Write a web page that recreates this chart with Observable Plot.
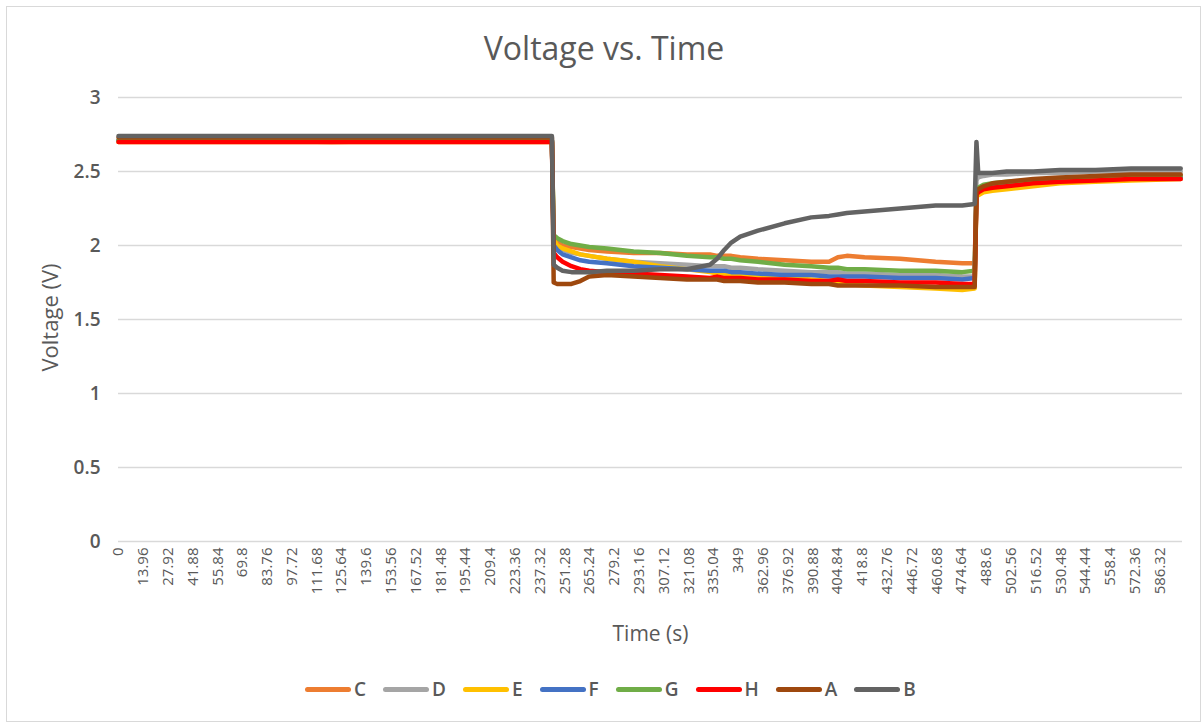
<!DOCTYPE html>
<html><head><meta charset="utf-8">
<script src="https://cdn.jsdelivr.net/npm/d3@7"></script>
<script src="https://cdn.jsdelivr.net/npm/@observablehq/plot@0.6"></script>
<style>
body{margin:0;background:#fff;font-family:"Open Sans",sans-serif;color:#595959;}
#wrap{position:relative;width:1202px;height:723px;overflow:hidden;}
#border{position:absolute;left:6px;top:6px;width:1195px;height:716px;border:1.5px solid #d9d9d9;box-sizing:border-box;pointer-events:none;}
#title{height:80px;box-sizing:border-box;padding-top:30px;text-align:center;font-size:32px;line-height:36px;color:#595959;padding-left:6px;}
#chart svg{display:block;}
#legend{height:68px;display:flex;align-items:center;padding-left:305px;box-sizing:border-box;}
.item{display:flex;align-items:center;margin-right:17px;font-size:19px;font-weight:600;color:#595959;}
.sw{width:46px;height:5px;border-radius:3px;margin-right:3px;}
</style></head>
<body><div id="wrap"><div id="border"></div><div id="title">Voltage vs. Time</div><div id="chart"></div><div id="legend"></div></div>
<script>
const series = ["C","D","E","F","G","H","A","B"];
const colors = ["#ED7D31","#A5A5A5","#FFC000","#4472C4","#70AD47","#FF0000","#9E480E","#636363"];
const yTicks = [0,0.5,1,1.5,2,2.5,3];
const xTickLabels = ["0","13.96","27.92","41.88","55.84","69.8","83.76","97.72","111.68","125.64","139.6","153.56","167.52","181.48","195.44","209.4","223.36","237.32","251.28","265.24","279.2","293.16","307.12","321.08","335.04","349","362.96","376.92","390.88","404.84","418.8","432.76","446.72","460.68","474.64","488.6","502.56","516.52","530.48","544.44","558.4","572.36","586.32"];

const time = [0,60,120,180,244,245,247,250,255,260,265,275,290,305,320,333,337,341,345,350,360,375,390,400,405,410,420,440,460,475,482,483,484,487,492,500,515,530,550,570,598];
const C = [2.71,2.71,2.70,2.71,2.71,2.05,2.02,2.00,1.99,1.98,1.97,1.96,1.95,1.95,1.94,1.94,1.93,1.93,1.93,1.92,1.91,1.90,1.89,1.89,1.92,1.93,1.92,1.91,1.89,1.88,1.88,2.35,2.37,2.39,2.40,2.41,2.43,2.44,2.45,2.46,2.46];
const D = [2.71,2.71,2.71,2.71,2.71,2.02,1.99,1.97,1.95,1.94,1.93,1.91,1.89,1.88,1.87,1.86,1.86,1.86,1.85,1.85,1.84,1.83,1.82,1.82,1.82,1.81,1.81,1.80,1.80,1.79,1.79,2.44,2.46,2.47,2.48,2.48,2.49,2.49,2.50,2.50,2.50];
const E = [2.70,2.70,2.70,2.70,2.70,2.04,2.00,1.98,1.96,1.94,1.93,1.91,1.89,1.86,1.84,1.82,1.81,1.81,1.80,1.80,1.79,1.78,1.77,1.76,1.75,1.74,1.73,1.72,1.71,1.70,1.71,2.33,2.34,2.36,2.37,2.38,2.40,2.42,2.43,2.44,2.45];
const F = [2.71,2.71,2.71,2.71,2.71,2.00,1.97,1.94,1.92,1.90,1.89,1.88,1.86,1.85,1.84,1.83,1.83,1.83,1.82,1.82,1.81,1.80,1.80,1.79,1.79,1.79,1.79,1.78,1.78,1.77,1.78,2.36,2.38,2.40,2.41,2.42,2.43,2.44,2.45,2.46,2.46];
const G = [2.71,2.71,2.71,2.71,2.71,2.07,2.05,2.03,2.01,2.00,1.99,1.98,1.96,1.95,1.93,1.92,1.92,1.91,1.91,1.90,1.89,1.87,1.86,1.85,1.85,1.84,1.84,1.83,1.83,1.82,1.83,2.37,2.39,2.41,2.42,2.43,2.44,2.45,2.46,2.46,2.47];
const H = [2.70,2.70,2.70,2.70,2.70,1.95,1.92,1.89,1.86,1.84,1.83,1.82,1.81,1.80,1.79,1.78,1.79,1.78,1.78,1.78,1.77,1.77,1.76,1.76,1.77,1.76,1.76,1.75,1.75,1.74,1.74,2.34,2.36,2.38,2.39,2.40,2.42,2.43,2.44,2.45,2.45];
const A = [2.73,2.73,2.73,2.73,2.73,1.75,1.74,1.74,1.74,1.76,1.79,1.80,1.79,1.78,1.77,1.77,1.77,1.76,1.76,1.76,1.75,1.75,1.74,1.74,1.73,1.73,1.73,1.73,1.72,1.72,1.72,2.37,2.38,2.40,2.42,2.43,2.45,2.46,2.47,2.48,2.48];
const B = [2.74,2.74,2.74,2.74,2.74,1.87,1.85,1.83,1.82,1.82,1.82,1.83,1.83,1.84,1.84,1.87,1.91,1.97,2.02,2.06,2.10,2.15,2.19,2.20,2.21,2.22,2.23,2.25,2.27,2.27,2.28,2.70,2.49,2.49,2.49,2.50,2.50,2.51,2.51,2.52,2.52];

const valuesBy = {C, D, E, F, G, H, A, B};
const rows = series.flatMap(s => time.map((t, i) => ({series: s, time: t, v: valuesBy[s][i]})));
const xTickValues = xTickLabels.map(Number);
const xLabelMap = new Map(xTickValues.map((v, i) => [v, xTickLabels[i]]));

const chart = Plot.plot({
  width: 1202, height: 575,
  marginLeft: 118, marginRight: 20, marginTop: 17, marginBottom: 114,
  x: {domain: [0, 599]},
  y: {domain: [0, 3]},
  color: {domain: series, range: colors},
  style: {fontFamily: "'Open Sans', sans-serif", color: "#595959", background: "transparent", overflow: "visible"},
  marks: [
    Plot.gridY(yTicks, {stroke: "#d9d9d9", strokeOpacity: 1, strokeWidth: 1.5}),
    Plot.axisY(yTicks, {tickSize: 0, tickPadding: 18, fontSize: 19, fontWeight: 600, label: null, tickFormat: d => String(d)}),
    Plot.axisX(xTickValues, {tickSize: 0, tickRotate: -90, tickPadding: 6, fontSize: 15, label: null, tickFormat: d => xLabelMap.get(d)}),
    Plot.line(rows, {x: "time", y: "v", z: "series", stroke: "series", strokeWidth: 4.5, strokeLinejoin: "round", strokeLinecap: "round"}),
    Plot.text(["Voltage (V)"], {text: d => d, frameAnchor: "left", textAnchor: "middle", lineAnchor: "middle", dx: -68, dy: -2, rotate: -90, fontSize: 22, fill: "#595959"}),
    Plot.text(["Time (s)"], {text: d => d, frameAnchor: "bottom", textAnchor: "middle", lineAnchor: "middle", dy: 93, fontSize: 21, fill: "#595959"})
  ]
});
document.getElementById("chart").appendChild(chart);

const legend = document.getElementById("legend");
series.forEach((s, i) => {
  const item = document.createElement("div");
  item.className = "item";
  const sw = document.createElement("div");
  sw.className = "sw";
  sw.style.background = colors[i];
  const lab = document.createElement("span");
  lab.textContent = s;
  item.appendChild(sw);
  item.appendChild(lab);
  legend.appendChild(item);
});
</script></body></html>
